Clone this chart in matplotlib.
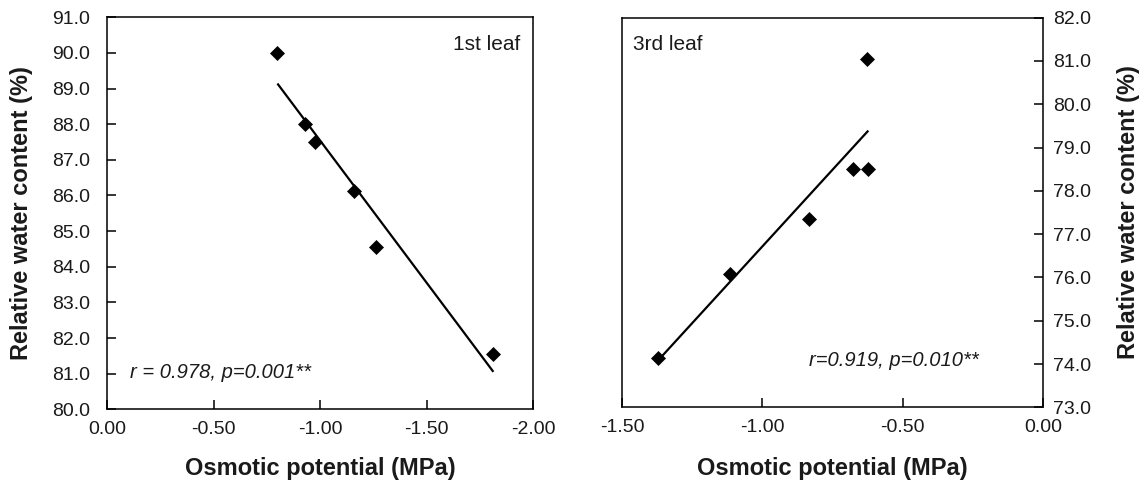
import numpy as np
import matplotlib
matplotlib.use("Agg")
import matplotlib.pyplot as plt
from matplotlib.ticker import FormatStrFormatter

plt.rcParams['font.family'] = ['Liberation Sans', 'DejaVu Sans']

# ---- data ----
leaf1_op = [-0.80, -0.93, -0.976, -1.16, -1.263, -1.814]
leaf1_rwc = [90.0, 88.0, 87.5, 86.13, 84.56, 81.56]
leaf3_op = [-0.629, -0.679, -0.623, -0.833, -1.116, -1.371]
leaf3_rwc = [81.05, 78.50, 78.50, 77.35, 76.07, 74.15]

leaf1_xticks = [0.0, -0.5, -1.0, -1.5, -2.0]
leaf1_yticks = [80, 81, 82, 83, 84, 85, 86, 87, 88, 89, 90, 91]
leaf3_xticks = [-1.5, -1.0, -0.5, 0.0]
leaf3_yticks = [73, 74, 75, 76, 77, 78, 79, 80, 81, 82]

panel_titles = ["1st leaf", "3rd leaf"]
stats_text = ["r = 0.978, p=0.001**", "r=0.919, p=0.010**"]
xlab = "Osmotic potential (MPa)"
ylab = "Relative water content (%)"

W, H = 1146, 484
fig = plt.figure(figsize=(W / 100, H / 100), dpi=100)


def px_axes(l, t, r, b):
    return fig.add_axes([l / W, 1 - b / H, (r - l) / W, (b - t) / H])


ax1 = px_axes(107, 17.3, 533, 409.3)
ax2 = px_axes(622, 17.7, 1043.3, 407.3)

tick_fs = 14
lab_fs = 17
txt_col = '#1a1a1a'


def regress(ax, x, y):
    x = np.asarray(x)
    y = np.asarray(y)
    k, b = np.polyfit(x, y, 1)
    xs = np.array([x.min(), x.max()])
    ax.plot(xs, k * xs + b, color='black', lw=1.6, zorder=2, solid_capstyle='butt')
    ax.plot(x, y, linestyle='none', marker='D', ms=6.8, mfc='black', mec='black', mew=0.5, zorder=3)


for ax in (ax1, ax2):
    for s in ax.spines.values():
        s.set_linewidth(1.1)
        s.set_color('black')

# left panel
regress(ax1, leaf1_op, leaf1_rwc)
ax1.set_xlim(0, -2.0)
ax1.set_ylim(80, 91)
ax1.set_xticks(leaf1_xticks)
ax1.set_yticks(leaf1_yticks)
ax1.set_xticklabels(['0.00', '-0.50', '-1.00', '-1.50', '-2.00'])
ax1.yaxis.set_major_formatter(FormatStrFormatter('%.1f'))
ax1.tick_params(axis='y', direction='in', length=6.5, width=1.1, pad=12, labelsize=tick_fs, labelcolor=txt_col)
ax1.tick_params(axis='x', direction='in', length=6.5, width=1.1, pad=8.5, labelsize=tick_fs, labelcolor=txt_col)
ax1.set_xlabel(xlab, fontsize=lab_fs, fontweight='bold', color=txt_col)
ax1.xaxis.label.set(va='center')
ax1.xaxis.set_label_coords(0.5, (409.3 - 468) / 392)
ax1.set_ylabel(ylab, fontsize=lab_fs, fontweight='bold', color=txt_col)
ax1.yaxis.label.set(ha='center', va='center', rotation_mode='default')
ax1.yaxis.set_label_coords((22 - 107) / 426, 0.5)
ax1.text((520 - 107) / 426, (409.3 - 44) / 392, panel_titles[0], transform=ax1.transAxes,
         ha='right', va='center', fontsize=15, color=txt_col)
ax1.text((130 - 107) / 426, (409.3 - 373) / 392, stats_text[0], transform=ax1.transAxes,
         ha='left', va='center', fontsize=14.5, style='italic', color=txt_col)

# right panel
regress(ax2, leaf3_op, leaf3_rwc)
ax2.set_xlim(-1.5, 0.0)
ax2.set_ylim(73, 82)
ax2.set_xticks(leaf3_xticks)
ax2.set_xticklabels(['-1.50', '-1.00', '-0.50', '0.00'])
ax2.set_yticks(leaf3_yticks)
ax2.yaxis.set_major_formatter(FormatStrFormatter('%.1f'))
ax2.yaxis.tick_right()
ax2.yaxis.set_label_position('right')
ax2.tick_params(axis='y', direction='in', length=6.5, width=1.1, pad=7, labelsize=tick_fs, labelcolor=txt_col)
ax2.tick_params(axis='x', direction='in', length=6.5, width=1.1, pad=8.5, labelsize=tick_fs, labelcolor=txt_col)
ax2.set_xlabel(xlab, fontsize=lab_fs, fontweight='bold', color=txt_col)
ax2.xaxis.label.set(va='center')
ax2.xaxis.set_label_coords(0.5, (407.3 - 468) / 389.6)
ax2.set_ylabel(ylab, fontsize=lab_fs, fontweight='bold', color=txt_col)
ax2.yaxis.label.set(ha='center', va='center', rotation=90, rotation_mode='default')
ax2.yaxis.set_label_coords((1128 - 622) / 421.3, 0.5)
ax2.text((632.7 - 622) / 421.3, (407.3 - 44) / 389.6, panel_titles[1], transform=ax2.transAxes,
         ha='left', va='center', fontsize=15, color=txt_col)
ax2.text((979 - 622) / 421.3, (407.3 - 360) / 389.6, stats_text[1], transform=ax2.transAxes,
         ha='right', va='center', fontsize=14.5, style='italic', color=txt_col)

fig.savefig('out.png', dpi=100)
